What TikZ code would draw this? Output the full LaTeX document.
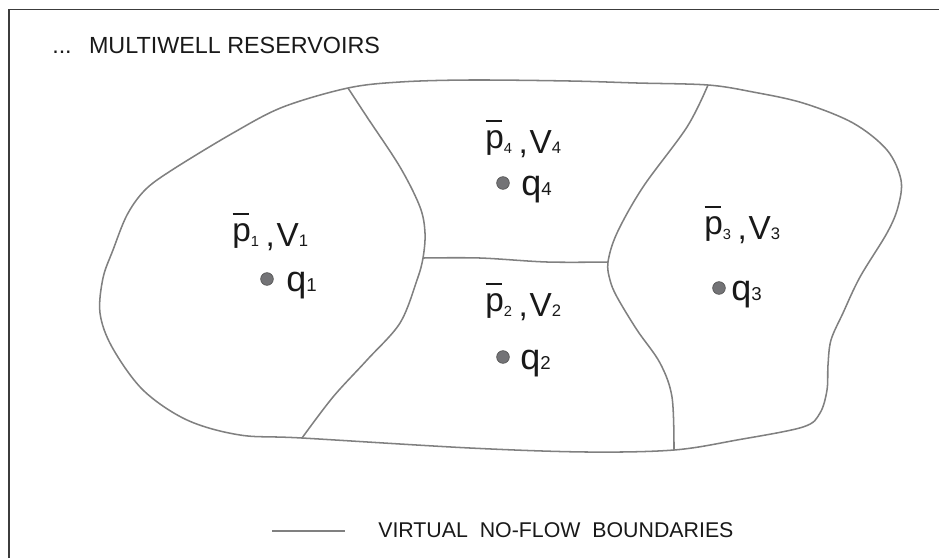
\documentclass[tikz,border=0pt]{standalone}
\usepackage{fontspec}
\setmainfont{Liberation Sans}
\definecolor{bgray}{RGB}{128,128,128}
\definecolor{wfill}{RGB}{115,115,118}
\definecolor{wedge}{RGB}{85,85,85}
\definecolor{framec}{RGB}{60,60,60}
\definecolor{txt}{RGB}{25,25,25}
\newcommand\psub[1]{{\fontsize{11}{11}\selectfont #1}}
\newcommand\vsub[1]{{\fontsize{12.5}{12.5}\selectfont #1}}
\newcommand\qsub[1]{{\fontsize{14}{14}\selectfont #1}}
\newcommand\pbar[1]{\raisebox{0.15em}{\rlap{\hspace{0.01em}\rule[0.78em]{0.5em}{0.055em}}p}\psub{#1}}
\newcommand\lbltext[1]{\pbar{#1}\hspace{0.2em},\hspace{0.05em}V\vsub{#1}}
\newcommand\qtext[1]{q\qsub{#1}}
\tikzset{
  bnd/.style={draw=bgray, line width=1.15pt},
  well/.style={circle, fill=wfill, draw=wedge, line width=0.5pt, minimum size=9.5pt, inner sep=0pt},
  lbl/.style={anchor=base west, inner sep=0pt, text=txt, font=\fontsize{25}{28}\selectfont},
  qlbl/.style={anchor=base west, inner sep=0pt, text=txt, font=\fontsize{27}{30}\selectfont},
  ttl/.style={anchor=base west, inner sep=0pt, text=txt, font=\fontsize{17.5}{20}\selectfont},
  leg/.style={anchor=base west, inner sep=0pt, text=txt, font=\fontsize{16}{19}\selectfont},
}
\begin{document}
\begin{tikzpicture}[x=0.75pt,y=-0.75pt]
\useasboundingbox (0,0) rectangle (939,558);
% frame
\draw[framec, line width=1.1pt] (9,558) -- (9,9.5) -- (939,9.5);
% title
\node[ttl] (title) at (52,53) {...\hspace{13pt}MULTIWELL RESERVOIRS};
% outer boundary
\draw[bnd] plot[smooth cycle, tension=0.55] coordinates {
 (348,88) (400,82) (470,80) (570,81) (637,83) (708,85) (753,92) (803,103)
 (853,123) (887,150) (901,180) (898,207) (887,233) (860,277) (843,313)
 (831,340) (828,365) (827,390) (820,413) (803,427) (737,440) (674,450)
 (587,452) (470,448) (302,438) (240,435) (187,420) (143,390) (112,347)
 (100,313) (103,278) (113,250) (127,215) (145,190) (172,170) (233,133) (283,107)};
% internal virtual no-flow boundaries
\draw[bnd] plot[smooth, tension=0.55] coordinates {
 (348,88) (367,117) (400,167) (420,207) (425,233) (423,258) (417,280)
 (400,323) (367,360) (333,397) (302,438)};
\draw[bnd] plot[smooth, tension=0.55] coordinates {
 (423,258) (480,258) (547,262) (608,262)};
\draw[bnd] plot[smooth, tension=0.55] coordinates {
 (708,85) (687,127) (643,187) (617,233) (608,262) (610,280) (617,297)
 (637,330) (660,363) (672,397) (674,450)};
% labels and wells
\node[lbl] (l1) at (232,246) {\lbltext{1}};
\node[well] (w1) at (267,279) {};
\node[qlbl] (q1) at (286,291) {\qtext{1}};

\node[lbl] (l4) at (485,153) {\lbltext{4}};
\node[well] (w4) at (503,183) {};
\node[qlbl] (q4) at (521,195) {\qtext{4}};

\node[lbl] (l2) at (485,316) {\lbltext{2}};
\node[well] (w2) at (503,357) {};
\node[qlbl] (q2) at (520,369) {\qtext{2}};

\node[lbl] (l3) at (704,239) {\lbltext{3}};
\node[well] (w3) at (719,288) {};
\node[qlbl] (q3) at (731,300) {\qtext{3}};
% legend
\coordinate (legA) at (272,531);
\coordinate (legB) at (345,531);
\draw[bnd] (legA) -- (legB);
\node[leg] (legtext) at (378,537) {VIRTUAL\ \ NO-FLOW\ \ BOUNDARIES};
\end{tikzpicture}
\end{document}
